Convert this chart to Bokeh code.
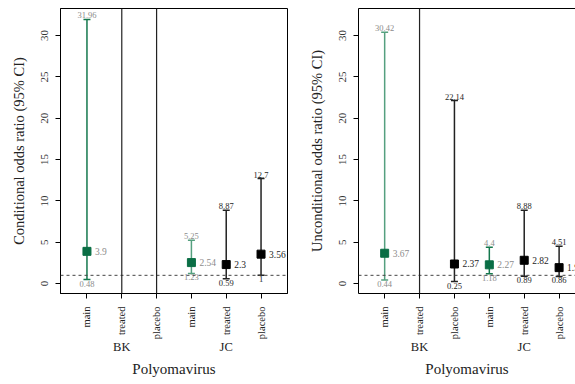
import math
from bokeh.plotting import figure
from bokeh.models import ColumnDataSource, FixedTicker, LinearAxis, Span, Range1d
from bokeh.layouts import row
from bokeh.embed import file_html
from bokeh.resources import INLINE
from bokeh.core.properties import value

# ---------------- data ----------------
positions = [1, 2, 3, 4, 5, 6]
subgroups = ["main", "treated", "placebo", "main", "treated", "placebo"]
groups = ["BK", "BK", "BK", "JC", "JC", "JC"]
highlight = [True, False, False, True, False, False]   # "main" analyses in green
y_ticks = [0, 5, 10, 15, 20, 25, 30]
null_or = 1

# Conditional odds ratios (None = not estimable, unbounded CI)
cond_est = [3.9, None, None, 2.54, 2.3, 3.56]
cond_lo = [0.48, None, None, 1.23, 0.59, 1.0]
cond_hi = [31.96, None, None, 5.25, 8.87, 12.7]

# Unconditional odds ratios
unc_est = [3.67, None, 2.37, 2.27, 2.82, 1.93]
unc_lo = [0.44, None, 0.25, 1.18, 0.89, 0.86]
unc_hi = [30.42, None, 22.14, 4.4, 8.88, 4.51]

# ---------------- style ----------------
FONT = "Liberation Serif"
GREEN_PT = "#0a6e45"
GREEN_DARK = "#15784d"
GREEN_LIGHT = "#55a07f"
BLACK_LINE = "#222222"
GRAY_TXT = "#8c8c8c"
DARK_TXT = "#1e1e1e"


def fmt(v):
    return f"{v:g}"


def make_panel(ylabel, est, lo, hi, green_line, x_start, x_end, width, border_left, border_right, outline):
    p = figure(width=width, height=384, output_backend="svg", toolbar_location=None,
               x_range=Range1d(x_start, x_end), y_range=Range1d(-1.2, 33.28),
               min_border_left=border_left, min_border_right=border_right,
               min_border_top=8, min_border_bottom=91,
               x_axis_type=None)
    p.background_fill_color = "white"
    p.border_fill_color = "white"
    p.xgrid.visible = False
    p.ygrid.visible = False
    if outline:
        p.outline_line_color = "black"
        p.outline_line_width = 1
    else:
        p.outline_line_color = None
        top = LinearAxis(ticker=FixedTicker(ticks=[]), major_label_text_font_size="0px",
                         axis_line_color="black", major_tick_line_color=None,
                         minor_tick_line_color=None)
        p.add_layout(top, "above")

    # y axis
    ya = p.yaxis[0]
    ya.ticker = FixedTicker(ticks=y_ticks)
    ya.major_label_orientation = "vertical"
    ya.major_label_text_font = FONT
    ya.major_label_text_font_size = "11px"
    ya.major_label_text_color = "#333333"
    ya.major_tick_out = 5
    ya.major_tick_in = 0
    ya.minor_tick_line_color = None
    ya.major_label_standoff = 7
    ya.axis_label = ylabel
    ya.axis_label_text_font = FONT
    ya.axis_label_text_font_style = "normal"
    ya.axis_label_text_font_size = "14.5px"
    ya.axis_label_text_color = "#222222"
    ya.axis_label_standoff = 12
    ya.axis_line_color = "black"

    # x axis: subgroups (rotated, reading bottom-to-top)
    xa = LinearAxis(ticker=FixedTicker(ticks=positions),
                    major_label_overrides={pos: s for pos, s in zip(positions, subgroups)})
    xa.major_label_orientation = math.pi / 2
    xa.major_label_text_font = FONT
    xa.major_label_text_font_size = "10.5px"
    xa.major_label_text_color = "#222222"
    xa.major_tick_out = 5
    xa.major_tick_in = 0
    xa.minor_tick_line_color = None
    xa.major_label_standoff = 8
    xa.axis_line_color = "black"
    p.add_layout(xa, "below")

    # x axis: groups
    gnames = []
    for g in groups:
        if g not in gnames:
            gnames.append(g)
    gcent = []
    for g in gnames:
        ps = [pos for pos, gg in zip(positions, groups) if gg == g]
        gcent.append(sum(ps) / len(ps))
    ga = LinearAxis(ticker=FixedTicker(ticks=gcent),
                    major_label_overrides={c: g for c, g in zip(gcent, gnames)})
    ga.axis_line_color = None
    ga.major_tick_line_color = None
    ga.major_tick_out = 0
    ga.minor_tick_line_color = None
    ga.major_label_text_font = FONT
    ga.major_label_text_font_size = "12.5px"
    ga.major_label_text_color = "#222222"
    ga.major_label_standoff = -3
    ga.axis_label = "Polyomavirus"
    ga.axis_label_text_font = FONT
    ga.axis_label_text_font_style = "normal"
    ga.axis_label_text_font_size = "15px"
    ga.axis_label_text_color = "#222222"
    ga.axis_label_standoff = 4
    p.add_layout(ga, "below")

    # reference line at OR = 1
    p.add_layout(Span(location=null_or, dimension="width", line_color="#444444",
                      line_dash="3 3", line_width=1))

    # unbounded intervals
    for pos, e in zip(positions, est):
        if e is None:
            p.add_layout(Span(location=pos, dimension="height", line_color=BLACK_LINE, line_width=1.2))

    rows = [i for i, e in enumerate(est) if e is not None]
    src = ColumnDataSource(dict(
        x=[positions[i] for i in rows],
        est=[est[i] for i in rows],
        lo=[lo[i] for i in rows],
        hi=[hi[i] for i in rows],
        est_s=[fmt(est[i]) for i in rows],
        lo_s=[fmt(lo[i]) for i in rows],
        hi_s=[fmt(hi[i]) for i in rows],
        lc=[(green_line[groups[i]] if highlight[i] else BLACK_LINE) for i in rows],
        pc=[(GREEN_PT if highlight[i] else "black") for i in rows],
        tc=[(GRAY_TXT if highlight[i] else DARK_TXT) for i in rows],
    ))

    p.segment(x0="x", y0="lo", x1="x", y1="hi", source=src, line_color="lc", line_width=1.5)
    p.scatter(x="x", y="lo", source=src, marker="dash", size=7, line_color="lc", line_width=1.5)
    p.scatter(x="x", y="hi", source=src, marker="dash", size=7, line_color="lc", line_width=1.5)
    p.scatter(x="x", y="est", source=src, marker="square", size=8, fill_color="pc", line_color="pc")

    p.text(x="x", y="est", text="est_s", source=src, x_offset=8, text_align="left",
           text_baseline="middle", text_font=value(FONT), text_font_size="9.5px", text_color="tc")
    p.text(x="x", y="hi", text="hi_s", source=src, y_offset=-1, text_align="center",
           text_baseline="bottom", text_font=value(FONT), text_font_size="8.5px", text_color="tc")
    p.text(x="x", y="lo", text="lo_s", source=src, y_offset=1, text_align="center",
           text_baseline="top", text_font=value(FONT), text_font_size="8.5px", text_color="tc")
    return p


left = make_panel("Conditional odds ratio (95% CI)", cond_est, cond_lo, cond_hi,
                  {"BK": GREEN_DARK, "JC": GREEN_LIGHT}, 0.24, 6.76, 288, 60, 1, True)
right = make_panel("Unconditional odds ratio (95% CI)", unc_est, unc_lo, unc_hi,
                   {"BK": GREEN_LIGHT, "JC": GREEN_DARK}, 0.25, 6.47, 287, 70, 0, False)

layout = row(left, right, spacing=0)
open("out.html", "w").write(file_html(layout, INLINE))
